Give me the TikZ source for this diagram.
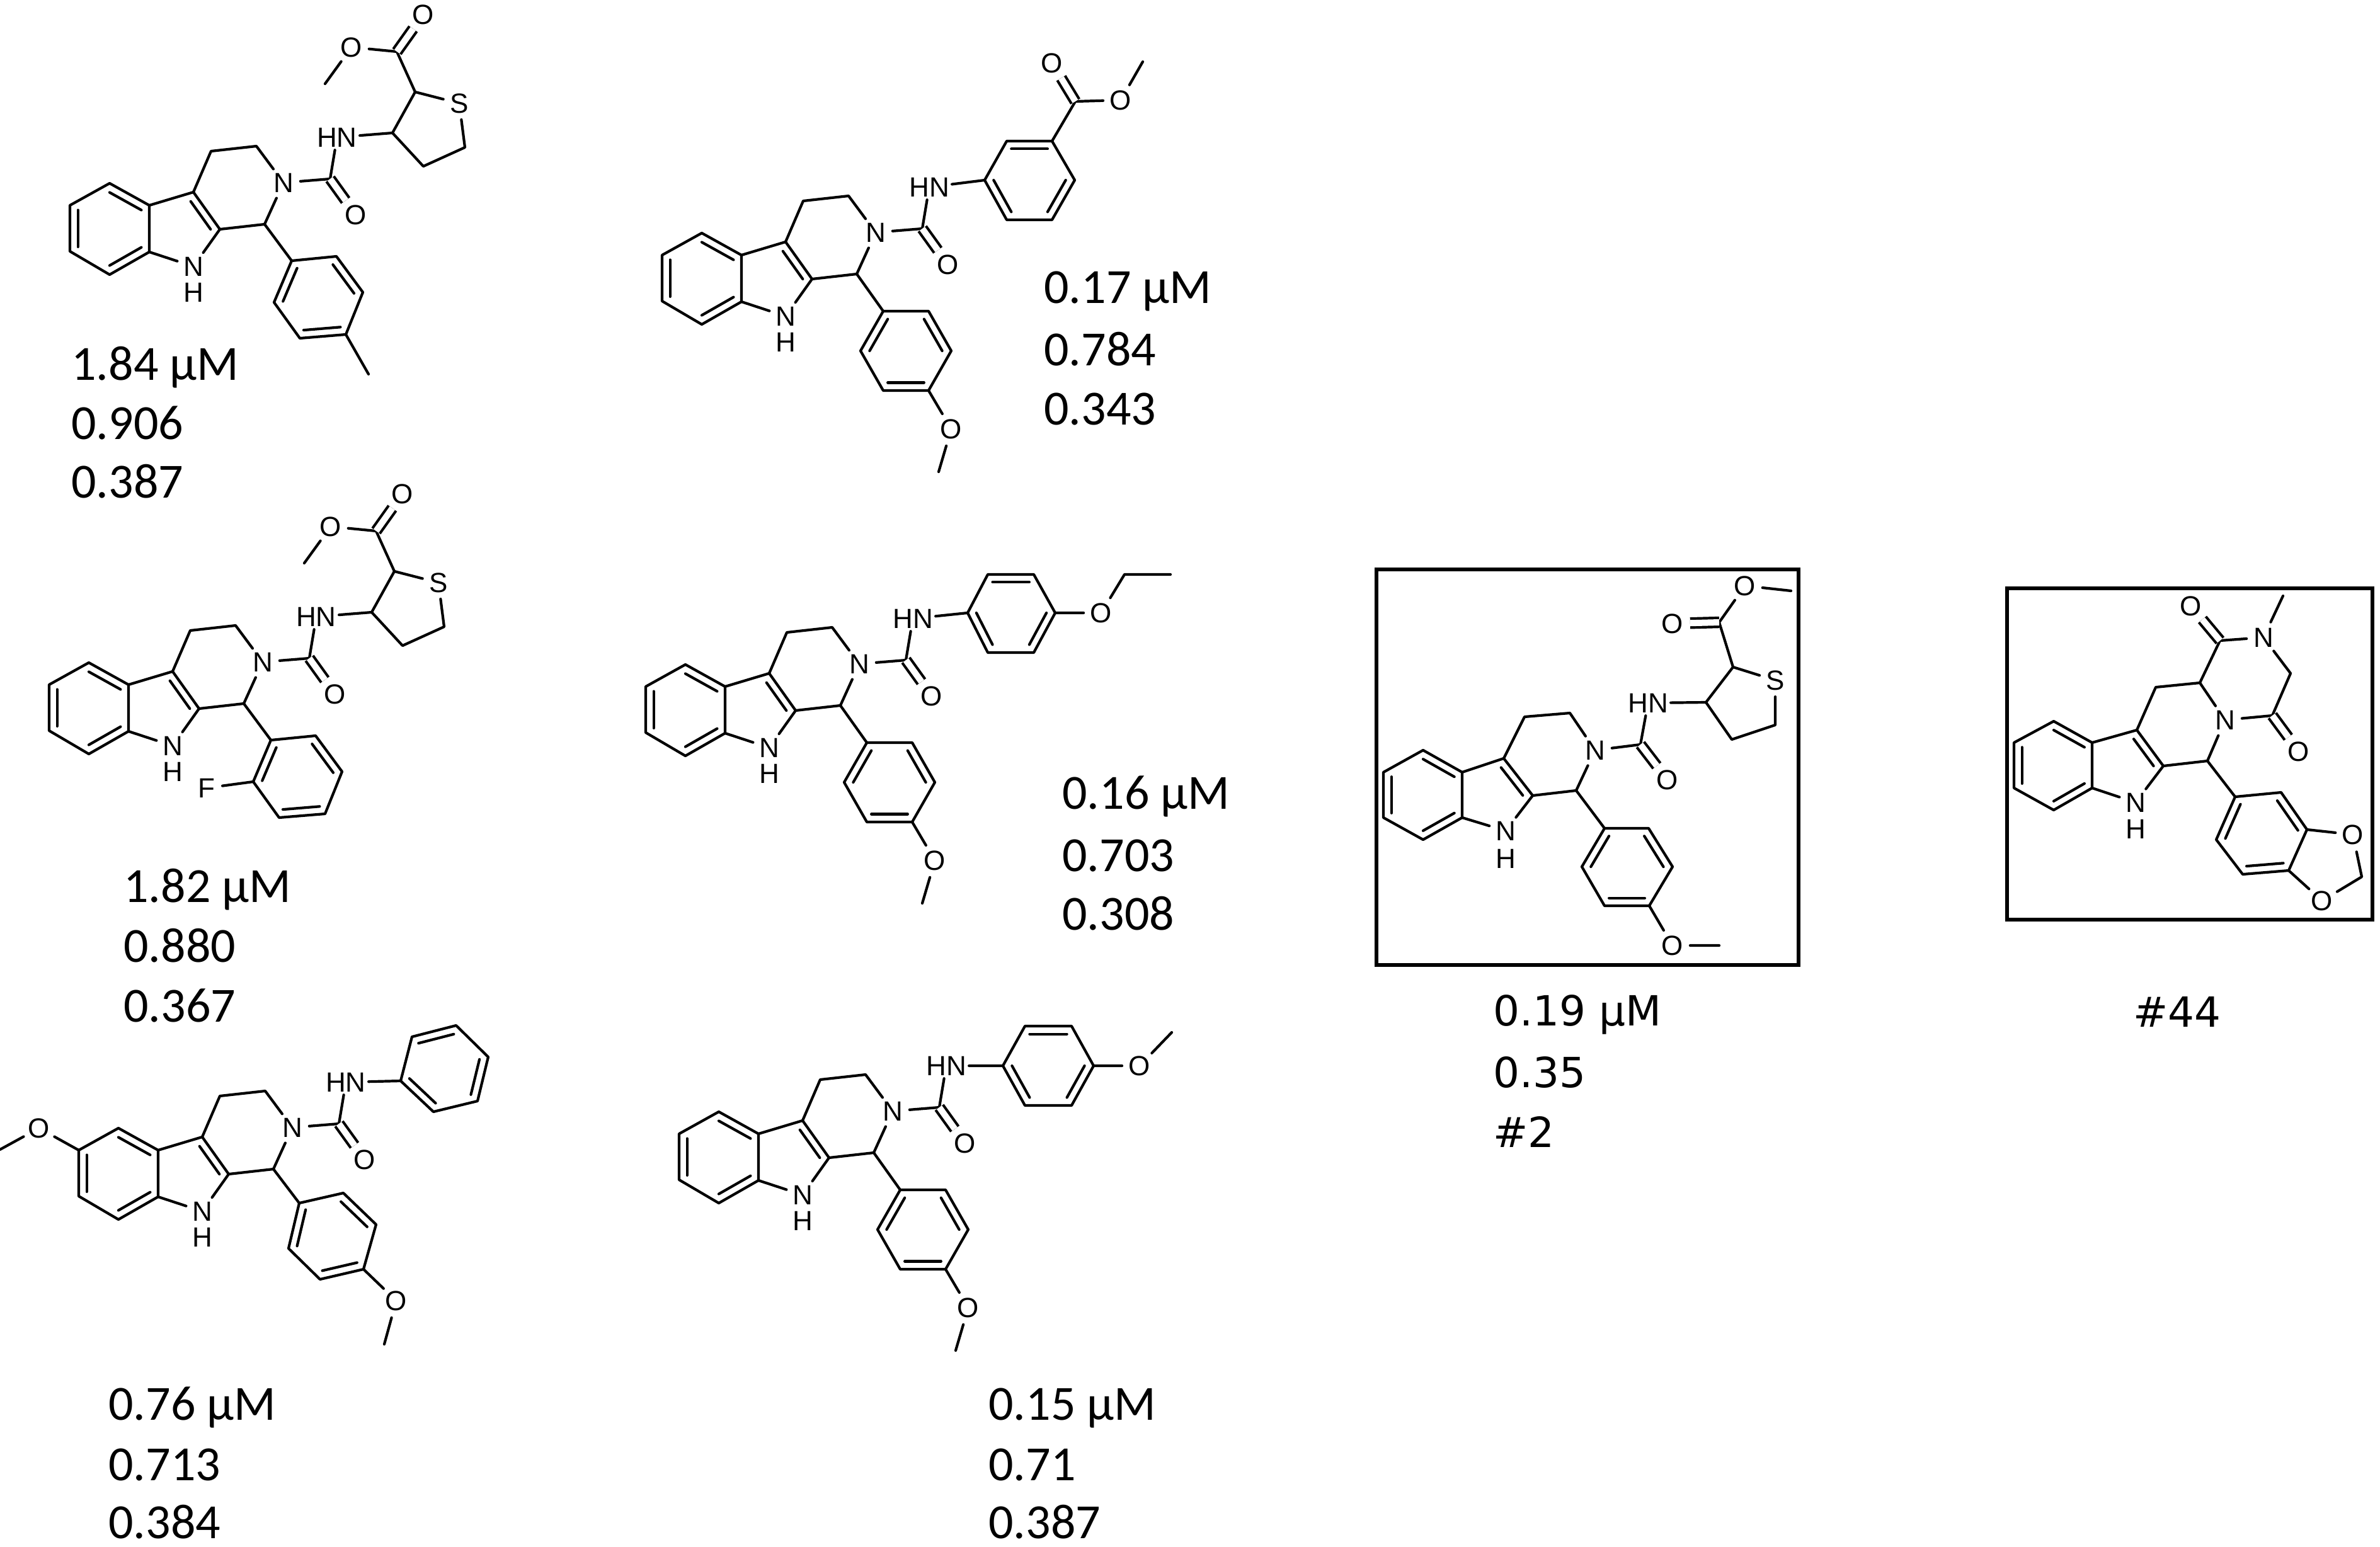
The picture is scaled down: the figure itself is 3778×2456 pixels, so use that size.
\documentclass[tikz,border=0pt]{standalone}
\usepackage{fontspec}
\setmainfont{Carlito}
\newfontfamily\atomfont{Liberation Sans}
\newfontfamily\djv{DejaVu Sans}
\usetikzlibrary{calc}
\tikzset{bond/.style={line width=2.1pt,line cap=round,line join=round},
dbond/.style={line width=2.1pt,double,double distance=5pt},
atom/.style={circle,inner sep=1.5pt,font=\atomfont\fontsize{22}{22}\selectfont,text height=15.8pt,text depth=0pt},
atomhn/.style={rectangle,inner sep=2pt,font=\atomfont\fontsize{22}{22}\selectfont,text height=15.8pt,text depth=0pt},
val/.style={anchor=base west,inner sep=0pt,font=\fontsize{39}{39}\selectfont},
valdv/.style={anchor=base west,inner sep=0pt,font=\djv\fontsize{33}{33}\selectfont},
frame/.style={line width=3pt}}
\newcommand\dbin[4]{\draw[bond] ($(#1)!#4!(#3)$) -- ($(#2)!#4!(#3)$);}
\newcommand\ring[7]{%
\coordinate (#11) at #2; \coordinate (#12) at #3; \coordinate (#13) at #4;
\coordinate (#14) at #5; \coordinate (#15) at #6; \coordinate (#16) at #7;
\coordinate (#1c) at ($(#11)!0.5!(#14)$);
\draw[bond] (#11)--(#12)--(#13)--(#14)--(#15)--(#16)--cycle;
\dbin{#12}{#13}{#1c}{0.2}\dbin{#14}{#15}{#1c}{0.2}\dbin{#16}{#11}{#1c}{0.2}}
\newcommand\bcore[1]{%
\ring{#1z}{(-276,1)}{(-339,36)}{(-339,109)}{(-276,146)}{(-213,110)}{(-213,36)}
\coordinate (#1c4b) at (-143,15); \coordinate (#1c9a) at (-101,74);
\node[atom] (#1n9) at (-143,133) {N}; \node[atom] (#1h9) at (-143,174) {H};
\coordinate (#1c4) at (-115,-50); \coordinate (#1c3) at (-43,-58);
\node[atom] (#1n2) at (0,0) {N}; \coordinate (#1c1) at (-30,66);
\coordinate (#1cc) at (74,-6); \node[atom] (#1o) at (115,51) {O};
\node[atomhn] (#1hn) at (85,-72) {HN};
\coordinate (#1pc) at (-160,74);
\draw[bond] (#1z6)--(#1c4b)--(#1c9a)--(#1n9)--(#1z5);
\draw[bond] (#1c4b)--(#1c4)--(#1c3)--(#1n2)--(#1c1)--(#1c9a);
\draw[bond] (#1n2)--(#1cc)--(#1hn);
\draw[dbond] (#1cc)--(#1o);
\dbin{#1c4b}{#1c9a}{#1pc}{0.25}}
\newcommand\thio[1]{%
\coordinate (#1t3) at (173,-79); \coordinate (#1t2) at (209,-144);
\node[atom] (#1s) at (279,-126) {S}; \coordinate (#1t5) at (288,-56); \coordinate (#1t4) at (222,-26);
\coordinate (#1ec) at (180,-208); \node[atom] (#1eo1) at (222,-267) {O};
\node[atom] (#1eo2) at (108,-215) {O}; \coordinate (#1eme) at (66,-157);
\draw[bond] (#1hn)--(#1t3)--(#1t2)--(#1s)--(#1t5)--(#1t4)--(#1t3);
\draw[bond] (#1t2)--(#1ec)--(#1eo2)--(#1eme);
\draw[dbond] (#1ec)--(#1eo1);}
\newcommand\anis[1]{%
\ring{#1a}{(12,125)}{(84,125)}{(120,188)}{(84,251)}{(12,251)}{(-24,188)}
\node[atom] (#1ao) at (120,312) {O}; \coordinate (#1ame) at (100,380);
\draw[bond] (#1c1)--(#1a1) (#1a4)--(#1ao)--(#1ame);}
\begin{document}
\begin{tikzpicture}[x=0.5pt,y=-0.5pt]
\useasboundingbox (0,0) rectangle (3778,2456);
% molecule 1
\begin{scope}[shift={(450,290)}]
\bcore{m1}
\ring{m1a}{(13,124)}{(84,117)}{(126,174)}{(99,241)}{(26,247)}{(-15,190)}
\coordinate (m1me) at (135,304);
\draw[bond] (m1c1)--(m1a1) (m1a4)--(m1me);
\thio{m1}
\end{scope}
\node[val] (t1a) at (113,603) {1.84 µM};
\node[val] (t1b) at (113,697) {0.906};
\node[val] (t1c) at (113,790) {0.387};
% molecule 3
\begin{scope}[shift={(417,1051)}]
\bcore{m3}
\ring{m3a}{(13,124)}{(84,117)}{(126,174)}{(99,241)}{(26,247)}{(-15,190)}
\node[atom] (m3f) at (-89,200) {F};
\draw[bond] (m3c1)--(m3a1) (m3a6)--(m3f);
\thio{m3}
\end{scope}
\node[val] (t3a) at (196,1432) {1.82 µM};
\node[val] (t3b) at (196,1527) {0.880};
\node[val] (t3c) at (196,1622) {0.367};
% molecule 2
\begin{scope}[shift={(1390,369)}]
\bcore{m2}\anis{m2}
\ring{m2p}{(173,-83)}{(208,-145)}{(280,-145)}{(316,-83)}{(280,-20)}{(208,-20)}
\coordinate (m2ec) at (317,-208); \node[atom] (m2eo1) at (280,-269) {O};
\node[atom] (m2eo2) at (389,-210) {O}; \coordinate (m2eme) at (424,-271);
\draw[bond] (m2hn)--(m2p1) (m2p3)--(m2ec)--(m2eo2)--(m2eme);
\draw[dbond] (m2ec)--(m2eo1);
\end{scope}
\node[val] (t2a) at (1657,481) {0.17 µM};
\node[val] (t2b) at (1657,580) {0.784};
\node[val] (t2c) at (1657,674) {0.343};
% molecule 4
\begin{scope}[shift={(1364,1054)}]
\bcore{m4}\anis{m4}
\ring{m4p}{(172,-81)}{(204,-142)}{(277,-142)}{(311,-81)}{(277,-18)}{(204,-18)}
\node[atom] (m4po) at (384,-81) {O}; \coordinate (m4pc2) at (421,-142); \coordinate (m4pc3) at (494,-142);
\draw[bond] (m4hn)--(m4p1) (m4p4)--(m4po)--(m4pc2)--(m4pc3);
\end{scope}
\node[val] (t4a) at (1686,1284) {0.16 µM};
\node[val] (t4b) at (1686,1383) {0.703};
\node[val] (t4c) at (1686,1476) {0.308};
% molecule 5
\begin{scope}[shift={(464,1790)}]
\bcore{m5}
\ring{m5a}{(11,120)}{(81,104)}{(133,154)}{(113,225)}{(44,241)}{(-6,192)}
\node[atom] (m5ao) at (165,275) {O}; \coordinate (m5ame) at (146,344);
\draw[bond] (m5c1)--(m5a1) (m5a4)--(m5ao)--(m5ame);
\ring{m5p}{(172,-74)}{(190,-144)}{(260,-162)}{(311,-112)}{(294,-42)}{(224,-25)}
\draw[bond] (m5hn)--(m5p1);
\node[atom] (m5mo) at (-402,1) {O}; \coordinate (m5mme) at (-464,35);
\draw[bond] (m5z2)--(m5mo)--(m5mme);
\end{scope}
\node[val] (t5a) at (172,2254) {0.76 µM};
\node[val] (t5b) at (172,2350) {0.713};
\node[val] (t5c) at (172,2442) {0.384};
% molecule 6
\begin{scope}[shift={(1417,1764)}]
\bcore{m6}\anis{m6}
\ring{m6p}{(175,-72)}{(210,-135)}{(284,-135)}{(319,-72)}{(284,-9)}{(210,-9)}
\node[atom] (m6po) at (392,-72) {O}; \coordinate (m6pme) at (443,-125);
\draw[bond] (m6hn)--(m6p1) (m6p4)--(m6po)--(m6pme);
\end{scope}
\node[val] (t6a) at (1569,2254) {0.15 µM};
\node[val] (t6b) at (1569,2350) {0.71};
\node[val] (t6c) at (1569,2442) {0.387};
% molecule 7 (boxed)
\draw[frame] (2185,904) rectangle (2855,1532);
\ring{m7z}{(2259,1191)}{(2196,1226)}{(2196,1298)}{(2259,1333)}{(2321,1298)}{(2321,1226)}
\coordinate (m7c4b) at (2387,1204); \coordinate (m7c9a) at (2433,1263);
\node[atom] (m7n9) at (2390,1319) {N}; \node[atom] (m7h9) at (2390,1363) {H};
\coordinate (m7c4) at (2420,1138); \coordinate (m7c3) at (2492,1132);
\node[atom] (m7n2) at (2532,1191) {N}; \coordinate (m7c1) at (2502,1255);
\coordinate (m7cc) at (2604,1182); \node[atom] (m7o) at (2647,1238) {O};
\node[atomhn] (m7hn) at (2616,1116) {HN};
\coordinate (m7pc) at (2370,1262);
\draw[bond] (m7z6)--(m7c4b)--(m7c9a)--(m7n9)--(m7z5);
\draw[bond] (m7c4b)--(m7c4)--(m7c3)--(m7n2)--(m7c1)--(m7c9a);
\draw[bond] (m7n2)--(m7cc)--(m7hn);
\draw[dbond] (m7cc)--(m7o);
\dbin{m7c4b}{m7c9a}{m7pc}{0.25}
\coordinate (m7t3) at (2708,1115); \coordinate (m7t2) at (2751,1059);
\node[atom] (m7s) at (2818,1080) {S}; \coordinate (m7t5) at (2818,1151); \coordinate (m7t4) at (2749,1174);
\coordinate (m7ec) at (2729,988); \node[atom] (m7eo1) at (2655,990) {O};
\node[atom] (m7eo2) at (2770,930) {O}; \coordinate (m7eme) at (2843,938);
\draw[bond] (m7hn)--(m7t3)--(m7t2)--(m7s)--(m7t5)--(m7t4)--(m7t3);
\draw[bond] (m7t2)--(m7ec)--(m7eo2)--(m7eme);
\draw[dbond] (m7ec)--(m7eo1);
\ring{m7a}{(2547,1315)}{(2617,1315)}{(2655,1376)}{(2618,1438)}{(2547,1438)}{(2511,1376)}
\node[atom] (m7ao) at (2655,1501) {O}; \coordinate (m7ame) at (2729,1501);
\draw[bond] (m7c1)--(m7a1) (m7a4)--(m7ao)--(m7ame);
\node[valdv] (t7a) at (2370,1628) {0.19 µM};
\node[valdv] (t7b) at (2370,1726) {0.35};
\node[valdv] (t7c) at (2370,1821) {\#2};
% molecule 8 (boxed)
\draw[frame] (3186,934) rectangle (3766,1460);
\ring{m8z}{(3260,1145)}{(3197,1179)}{(3197,1251)}{(3260,1286)}{(3321,1251)}{(3321,1179)}
\coordinate (m8c4b) at (3392,1159); \coordinate (m8c9a) at (3434,1216);
\node[atom] (m8n9) at (3390,1274) {N}; \node[atom] (m8h9) at (3390,1316) {H};
\coordinate (m8c4) at (3422,1091); \coordinate (m8c3) at (3492,1084);
\node[atom] (m8n2) at (3532,1143) {N}; \coordinate (m8c1) at (3504,1208);
\coordinate (m8pc) at (3372,1216);
\draw[bond] (m8z6)--(m8c4b)--(m8c9a)--(m8n9)--(m8z5);
\draw[bond] (m8c4b)--(m8c4)--(m8c3)--(m8n2)--(m8c1)--(m8c9a);
\dbin{m8c4b}{m8c9a}{m8pc}{0.25}
\coordinate (m8c5) at (3607,1136); \node[atom] (m8o5) at (3649,1193) {O};
\coordinate (m8ch2) at (3636,1069); \node[atom] (m8nm) at (3593,1012) {N};
\coordinate (m8me) at (3624,946); \coordinate (m8cu) at (3524,1017);
\node[atom] (m8ou) at (3478,962) {O};
\draw[bond] (m8c3)--(m8cu)--(m8nm)--(m8ch2)--(m8c5)--(m8n2);
\draw[bond] (m8nm)--(m8me);
\draw[dbond] (m8cu)--(m8ou);
\draw[dbond] (m8c5)--(m8o5);
\ring{m8a}{(3548,1265)}{(3621,1258)}{(3662,1317)}{(3633,1382)}{(3560,1388)}{(3518,1333)}
\node[atom] (m8o1) at (3735,1325) {O}; \coordinate (m8och) at (3749,1392);
\node[atom] (m8o2) at (3686,1430) {O};
\draw[bond] (m8c1)--(m8a1) (m8a3)--(m8o1)--(m8och)--(m8o2)--(m8a4);
\node[valdv] (t8) at (3386,1630) {\#44};
\end{tikzpicture}
\end{document}
